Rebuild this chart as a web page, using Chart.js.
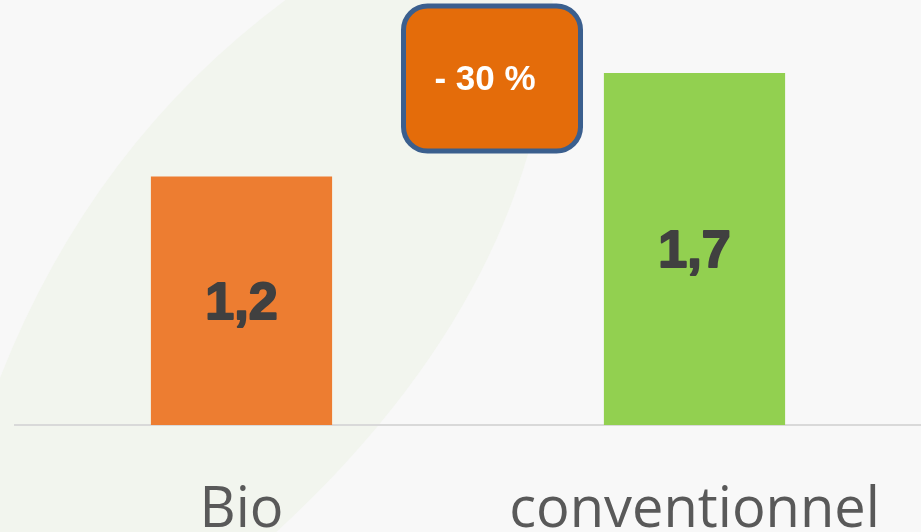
<!DOCTYPE html>
<html>
<head>
<meta charset="utf-8">
<script src="https://cdn.jsdelivr.net/npm/chart.js@4/dist/chart.umd.min.js"></script>
<style>
  html, body { margin: 0; padding: 0; background: #f8f8f8; }
  #wrap { width: 921px; height: 532px; position: relative; }
</style>
</head>
<body>
<div id="wrap"><canvas id="chart"></canvas></div>
<script>
// data
const categories = ["Bio", "conventionnel"];
const values = [1.2, 1.7];
const barColors = ["#ED7D31", "#92D050"];
const badgeText = "- 30 %";

// background with the pale green leaf
const backgroundPlugin = {
  id: "background",
  beforeDraw(chart) {
    const ctx = chart.ctx;
    const w = chart.width, h = chart.height;
    ctx.save();
    ctx.fillStyle = "#f8f8f8";
    ctx.fillRect(0, 0, w, h);
    ctx.fillStyle = "#f2f5ee";
    ctx.beginPath();
    ctx.moveTo(0, h * 0.71);
    ctx.quadraticCurveTo(w * 0.1, h * 0.27, w * 0.31, 0);
    ctx.lineTo(w * 0.6, 0);
    ctx.bezierCurveTo(w * 0.595, h * 0.3, w * 0.52, h * 0.65, w * 0.3, h);
    ctx.lineTo(0, h);
    ctx.closePath();
    ctx.fill();
    ctx.restore();
  }
};

// value inside each bar
const valueLabels = {
  id: "valueLabels",
  afterDatasetsDraw(chart) {
    const ctx = chart.ctx;
    const meta = chart.getDatasetMeta(0);
    ctx.save();
    ctx.font = "bold 52px 'Liberation Sans', Arial, sans-serif";
    ctx.fillStyle = "#404040";
    ctx.strokeStyle = "#404040";
    ctx.lineWidth = 2;
    ctx.lineJoin = "round";
    ctx.textAlign = "center";
    ctx.textBaseline = "middle";
    meta.data.forEach((bar, i) => {
      const txt = values[i].toString().replace(".", ",");
      const y = (bar.y + bar.base) / 2 + 4;
      ctx.strokeText(txt, bar.x, y);
      ctx.fillText(txt, bar.x, y);
    });
    ctx.restore();
  }
};

// "- 30 %" badge
const badge = {
  id: "badge",
  afterDraw(chart) {
    const ctx = chart.ctx;
    const x = chart.scales.x;
    const cx = x.getPixelForValue(0) + (x.getPixelForValue(1) - x.getPixelForValue(0)) * 0.553;
    const bw = 177, bh = 145;
    const left = cx - bw / 2, top = 6;
    ctx.save();
    ctx.beginPath();
    ctx.roundRect(left, top, bw, bh, 24);
    ctx.fillStyle = "#E46C0A";
    ctx.fill();
    ctx.lineWidth = 5;
    ctx.strokeStyle = "#3B5F8E";
    ctx.stroke();
    ctx.font = "bold 35px 'Liberation Sans', Arial, sans-serif";
    ctx.fillStyle = "#ffffff";
    ctx.textAlign = "center";
    ctx.textBaseline = "middle";
    ctx.fillText(badgeText, cx - 7, top + bh / 2 + 2);
    ctx.restore();
  }
};

new Chart(document.getElementById("chart"), {
  type: "bar",
  data: {
    labels: categories,
    datasets: [{
      data: values,
      backgroundColor: barColors,
      barPercentage: 0.4,
      categoryPercentage: 1.0
    }]
  },
  options: {
    responsive: true,
    maintainAspectRatio: false,
    animation: false,
    layout: { padding: { left: 15, right: 0, top: 11, bottom: 0 } },
    plugins: { legend: { display: false }, tooltip: { enabled: false } },
    scales: {
      x: {
        grid: { display: false, drawTicks: false },
        border: { display: true, color: "#d9d9d9", width: 2 },
        ticks: {
          color: "#595959",
          padding: 52,
          font: { family: "'Open Sans', sans-serif", size: 56 }
        },
        afterFit(scale) {
          scale.height = 107;
          // the long label may run past the edge, like in the original
          scale.paddingLeft = 0;
          scale.paddingRight = 0;
        }
      },
      y: { display: false, min: 0, max: 2 }
    }
  },
  plugins: [backgroundPlugin, valueLabels, badge]
});
</script>
</body>
</html>
